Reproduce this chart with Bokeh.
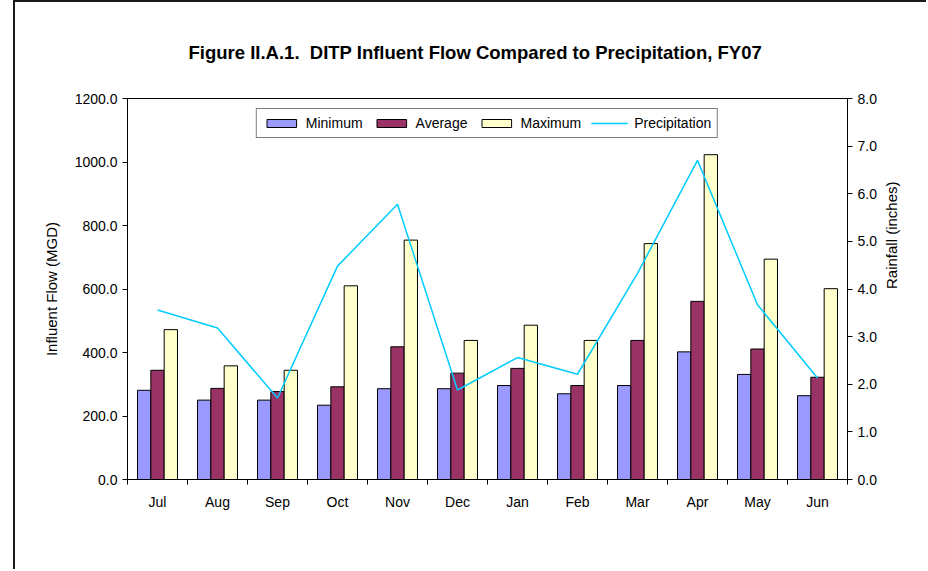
import math
from bokeh.plotting import figure
from bokeh.models import (ColumnDataSource, Range1d, LinearAxis,
                          FixedTicker, NumeralTickFormatter, Legend, LegendItem)
from bokeh.transform import dodge
from bokeh.embed import file_html
from bokeh.resources import INLINE

months = ["Jul", "Aug", "Sep", "Oct", "Nov", "Dec", "Jan", "Feb", "Mar", "Apr", "May", "Jun"]
minimum = [281, 250, 250, 234, 286, 286, 296, 270, 296, 402, 331, 264]
average = [344, 287, 277, 292, 418, 335, 350, 296, 438, 561, 411, 322]
maximum = [472, 358, 344, 610, 754, 438, 486, 438, 743, 1023, 694, 601]
precipitation = [3.56, 3.18, 1.71, 4.48, 5.78, 1.88, 2.56, 2.21, 4.33, 6.70, 3.67, 2.13]

flow_ticks = [0, 200, 400, 600, 800, 1000, 1200]
rain_ticks = [0, 1, 2, 3, 4, 5, 6, 7, 8]

FONT = "Liberation Sans"

n = len(months)
pos = [i + 0.5 for i in range(n)]  # category centres on a 0..n axis
src = ColumnDataSource(dict(pos=pos, months=months, minimum=minimum, average=average,
                            maximum=maximum, precip=precipitation))

p = figure(x_range=Range1d(0, n), y_range=Range1d(0, 1200),
           width=913, height=569, output_backend="svg", toolbar_location=None,
           x_axis_location=None, y_axis_location=None,
           min_border_left=112, min_border_right=81, min_border_top=96, min_border_bottom=92)
p.styles = {"margin-left": "13px", "border-top": "2px solid #1a1a1a", "border-left": "2px solid #1a1a1a"}
p.extra_y_ranges = {"rain": Range1d(0, 8)}
p.xgrid.visible = False
p.ygrid.visible = False
p.outline_line_color = "black"
p.outline_line_width = 1

def style_axis(ax):
    ax.axis_line_color = "black"
    ax.major_tick_line_color = "black"
    ax.major_tick_in = 0
    ax.major_tick_out = 5
    ax.minor_tick_out = 0
    ax.minor_tick_in = 0
    ax.major_label_text_font = FONT
    ax.major_label_text_font_size = "14px"
    ax.major_label_text_color = "black"
    ax.axis_label_text_font = FONT
    ax.axis_label_text_font_size = "15px"
    ax.axis_label_text_font_style = "normal"
    ax.axis_label_text_color = "black"

yl = LinearAxis(ticker=FixedTicker(ticks=flow_ticks), formatter=NumeralTickFormatter(format="0.0"),
                axis_label="Influent Flow (MGD)")
style_axis(yl)
yl.axis_label_standoff = 12
p.add_layout(yl, "left")

yr = LinearAxis(y_range_name="rain", ticker=FixedTicker(ticks=rain_ticks),
                formatter=NumeralTickFormatter(format="0.0"), axis_label="Rainfall (inches)")
style_axis(yr)
yr.axis_label_standoff = 12
yr.axis_label_orientation = math.pi / 2
p.add_layout(yr, "right")

# ticks between categories
xe = LinearAxis(ticker=FixedTicker(ticks=list(range(n + 1))))
style_axis(xe)
xe.major_label_text_font_size = "0px"
xe.major_label_standoff = 0
p.add_layout(xe, "below")

# category labels at centres
xc = LinearAxis(ticker=FixedTicker(ticks=pos),
                major_label_overrides={c: m for c, m in zip(pos, months)})
style_axis(xc)
xc.axis_line_color = None
xc.major_tick_out = 0
xc.major_label_standoff = 9
p.add_layout(xc, "below")

w = 1 / 4.5
r_min = p.vbar(x=dodge("pos", -w), top="minimum", width=w, source=src,
               fill_color="#9999FF", line_color="black", line_width=1)
r_avg = p.vbar(x=dodge("pos", 0), top="average", width=w, source=src,
               fill_color="#993366", line_color="black", line_width=1)
r_max = p.vbar(x=dodge("pos", w), top="maximum", width=w, source=src,
               fill_color="#FFFFCC", line_color="black", line_width=1)
r_pre = p.line(x="pos", y="precip", y_range_name="rain", source=src,
               line_color="#00CCFF", line_width=1.5)

p.title.text = "Figure II.A.1.\u00a0 DITP Influent Flow Compared to Precipitation, FY07"
p.title.align = "left"
p.title.offset = 61
p.title.standoff = 72
p.title.text_font = FONT
p.title.text_font_size = "18.5px"
p.title.text_font_style = "bold"
p.title.text_color = "black"

legend = Legend(items=[LegendItem(label="Minimum", renderers=[r_min]),
                       LegendItem(label="Average", renderers=[r_avg]),
                       LegendItem(label="Maximum", renderers=[r_max]),
                       LegendItem(label="Precipitation", renderers=[r_pre])],
                orientation="horizontal", location="top_center")
legend.border_line_color = "black"
legend.border_line_width = 1
legend.background_fill_color = "white"
legend.background_fill_alpha = 1
legend.padding = 6
legend.spacing = 10
legend.margin = 10
legend.label_standoff = 6
legend.glyph_width = 37
legend.glyph_height = 10
legend.label_height = 16
legend.label_text_font = FONT
legend.label_text_font_size = "14px"
legend.label_text_color = "black"
p.add_layout(legend, "center")

open("out.html", "w").write(file_html(p, INLINE))
